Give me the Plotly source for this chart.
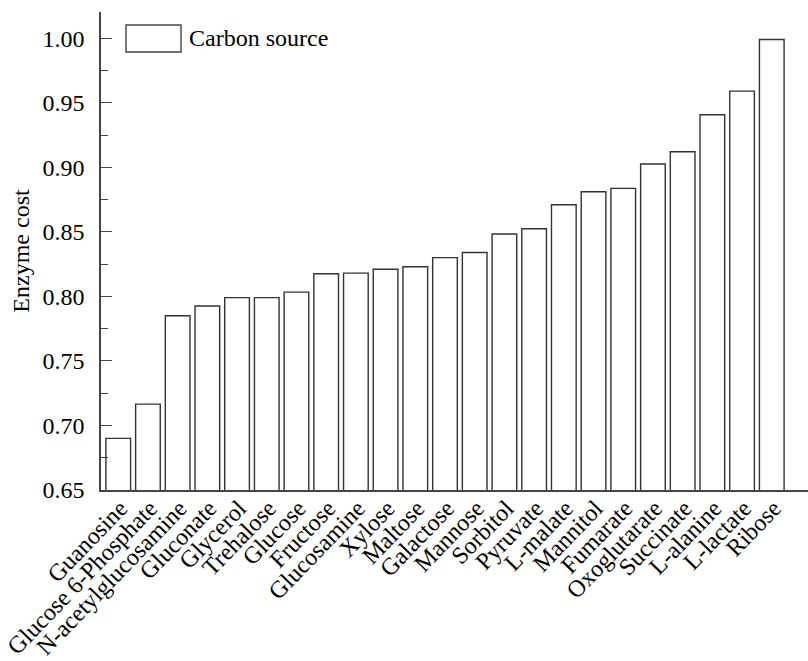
import plotly.graph_objects as go

categories = ["Guanosine", "Glucose 6-Phosphate", "N-acetylglucosamine", "Gluconate",
              "Glycerol", "Trehalose", "Glucose", "Fructose", "Glucosamine", "Xylose",
              "Maltose", "Galactose", "Mannose", "Sorbitol", "Pyruvate", "L-malate",
              "Mannitol", "Fumarate", "Oxoglutarate", "Succinate", "L-alanine",
              "L-lactate", "Ribose"]
values = [0.690, 0.7165, 0.785, 0.7926, 0.799, 0.799, 0.8033, 0.8175, 0.818, 0.821,
          0.823, 0.830, 0.834, 0.8483, 0.8524, 0.871, 0.881, 0.8837, 0.9026, 0.912,
          0.9407, 0.959, 0.999]
y_ticks = [0.65, 0.70, 0.75, 0.80, 0.85, 0.90, 0.95, 1.00]
y_tick_labels = ["0.65", "0.70", "0.75", "0.80", "0.85", "0.90", "0.95", "1.00"]
series_name = "Carbon source"

FONT = "Liberation Serif, Times New Roman, serif"
FS = 24

fig = go.Figure()
fig.add_trace(go.Bar(
    x=categories, y=values, name=series_name,
    marker=dict(color="white", line=dict(color="#333333", width=1.4)),
    width=0.83, showlegend=False, hoverinfo="skip",
))

fig.update_layout(
    width=808, height=661,
    margin=dict(l=101, r=0, t=12, b=171, autoexpand=False),
    paper_bgcolor="white", plot_bgcolor="white",
    font=dict(family=FONT, color="black"),
    xaxis=dict(
        range=[-0.58, len(categories) - 1 + 1.22],
        tickangle=-46, tickfont=dict(size=FS, family=FONT, color="black"),
        ticklabelstandoff=-7, ticklabelshift=2,
        showline=True, linecolor="#444444", linewidth=1.5,
        ticks="", showgrid=False, zeroline=False, automargin=False,
    ),
    yaxis=dict(
        range=[0.65, 1.0203],
        tickvals=y_ticks, ticktext=y_tick_labels,
        tickfont=dict(size=FS, family=FONT, color="black"),
        ticklabelstandoff=10,
        title=dict(text="Enzyme cost", font=dict(size=FS, family=FONT, color="black"), standoff=6),
        showline=True, linecolor="#444444", linewidth=1.5,
        ticks="inside", ticklen=11, tickwidth=1.3, tickcolor="#444444",
        minor=dict(dtick=0.025, ticks="inside", ticklen=7, tickwidth=1.3, tickcolor="#444444"),
        showgrid=False, zeroline=False, automargin=False,
    ),
    shapes=[dict(type="rect", xref="paper", yref="paper",
                 x0=(126 - 101) / 707, x1=(181 - 101) / 707,
                 y0=(490 - 52) / 478, y1=(490 - 25) / 478,
                 line=dict(color="#444444", width=1.4), fillcolor="white")],
    annotations=[dict(text=series_name, xref="paper", yref="paper",
                      x=(187 - 101) / 707, y=(490 - 38.5) / 478,
                      xanchor="left", yanchor="middle", showarrow=False,
                      font=dict(size=FS, family=FONT, color="black"))],
)

fig.write_html(
    "out.html",
    config={"displayModeBar": False},
    post_script="document.body.style.margin='0';document.body.style.padding='0';"
                "document.body.style.overflow='hidden';"
                "document.documentElement.style.overflow='hidden';",
)
